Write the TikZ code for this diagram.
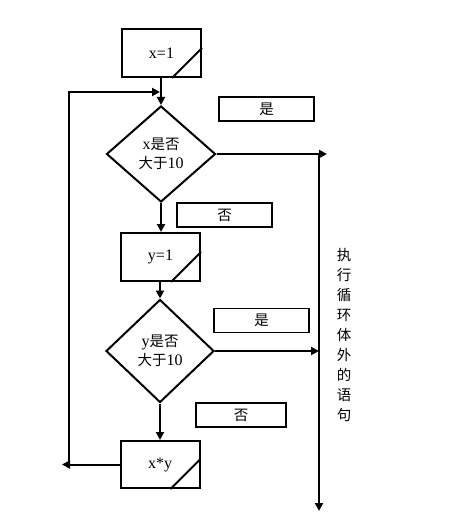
\documentclass[tikz,border=0pt]{standalone}
\usepackage{fontspec}
\setmainfont{Liberation Serif}
\newfontfamily\cjk{Noto Sans CJK SC}
\usetikzlibrary{shapes.geometric,arrows.meta}
\newcommand\zhs[1]{{\cjk\fontsize{14.5}{18}\selectfont #1}}
\begin{document}
\begin{tikzpicture}[x=1pt,y=-1pt,
  every node/.style={font=\fontsize{16}{18.5}\selectfont},
  ln/.style={line width=2pt},
  arr/.style={ln,-{Triangle[length=8pt,width=8pt]}},
  procbox/.style={draw,ln,minimum width=79pt,minimum height=48pt,inner sep=0pt},
  decide/.style={draw,ln,diamond,minimum width=109pt,inner sep=0pt,align=center},
  lbl/.style={draw,line width=1.8pt,minimum height=24pt,inner sep=0pt},
]
\useasboundingbox (0,0) rectangle (449,521);
\fill[white] (0,0) rectangle (449,521);

% process boxes
\node[procbox] (n1) at (161.5,53) {x=1};
\node[procbox] (n2) at (160.5,257) {y=1};
\node[procbox,minimum height=47pt] (n3) at (160,464.5) {x*y};
\foreach \b in {n1,n2,n3}
  \draw[ln] ([xshift=-30pt]\b.south east) -- ([yshift=30pt]\b.south east);

% decisions
\node[decide,minimum height=96pt] (d1) at (161,154) {x\zhs{是否}\\\zhs{大于}10};
\node[decide,minimum height=103pt,minimum width=108pt] (d2) at (160,351) {y\zhs{是否}\\\zhs{大于}10};

% label boxes
\node[lbl,minimum width=95pt] (y1) at (266.5,109) {\zhs{是}};
\node[lbl,minimum width=95pt] (f1) at (224.5,215) {\zhs{否}};
\node[lbl,minimum width=95pt] (y2) at (261.5,320.5) {\zhs{是}};
\node[lbl,minimum width=90pt] (f2) at (241,415) {\zhs{否}};

% vertical text
\node[font=\cjk\fontsize{14.5}{20}\selectfont,align=center] (out) at (344,335)
  {执\\行\\循\\环\\体\\外\\的\\语\\句};

% coordinates
\coordinate (r1) at (327,154);
\coordinate (rtop) at (319,154);
\coordinate (rbot) at (319,511);
\coordinate (r2) at (319,351);
\coordinate (lout) at (62,464.5);
\coordinate (lbot) at (69,464.5);
\coordinate (ltop) at (69,92);
\coordinate (lin) at (160,92);

% connectors
\draw[arr] (n1.south -| d1.north) -- (d1.north);
\draw[arr] (d1.south) -- (d1.south |- n2.north);
\draw[arr] (n2.south -| d2.north) -- (d2.north);
\draw[arr] (d2.south) -- (n3.north);
\draw[arr] (d1.east) -- (r1);
\draw[arr] (rtop) -- (rbot);
\draw[arr] (d2.east) -- (r2);
\draw[arr] (n3.west) -- (lout);
\draw[arr] (lbot) -- (ltop) -- (lin);
\end{tikzpicture}
\end{document}
